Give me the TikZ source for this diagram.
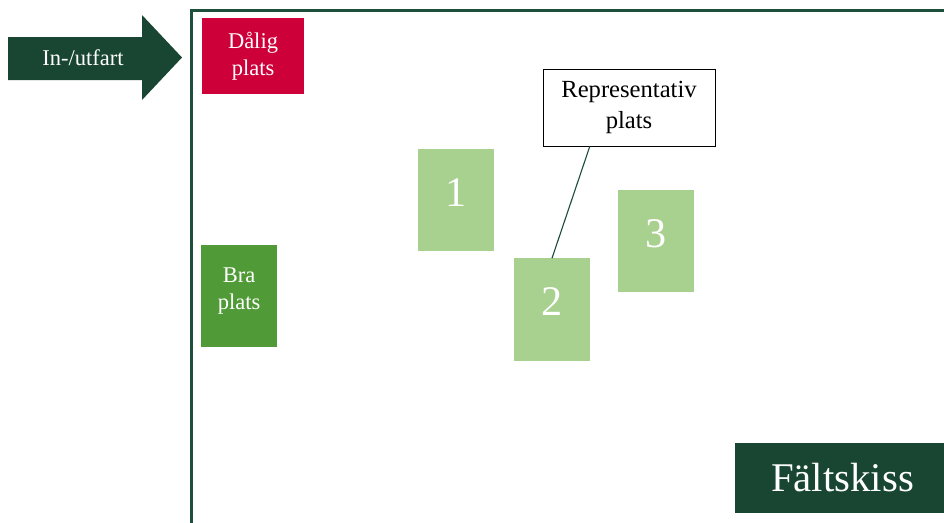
\documentclass[tikz,border=0pt]{standalone}
\usepackage{fontspec}
\setmainfont{Liberation Serif}
\usetikzlibrary{calc,positioning}
\definecolor{darkgreen}{RGB}{24,70,50}
\definecolor{framegreen}{RGB}{30,78,60}
\definecolor{badred}{RGB}{206,0,58}
\definecolor{goodgreen}{RGB}{80,155,55}
\definecolor{lightgreen}{RGB}{168,208,142}

\begin{document}
\begin{tikzpicture}[x=0.025cm,y=-0.025cm,
  place/.style={rectangle,inner sep=0pt,align=center,text=white},
  spot/.style={place,fill=lightgreen,minimum width=1.9cm,minimum height=2.55cm,text depth=11pt,font=\fontsize{30}{34}\selectfont},
  label/.style={font=\fontsize{16}{19}\selectfont}]

  \clip (0,0) rectangle (944,522);
  \fill[white] (0,0) rectangle (944,522);

  % sketch frame
  \draw[framegreen,line width=2.2pt] (191.5,540) |- (960,10.5);

  % entrance arrow
  \fill[darkgreen] (8,37) -- (142,37) -- (142,15) -- (182,57.5) -- (142,100) -- (142,80) -- (8,80) -- cycle;
  \node[label,text=white] (inout) at (83,58) {In-/utfart};

  \node[place,label,fill=badred,minimum width=2.55cm,minimum height=1.9cm] (bad) at (253,56) {Dålig\\plats};
  \node[place,label,fill=goodgreen,minimum width=1.9cm,minimum height=2.55cm,text depth=10pt] (good) at (239,296) {Bra\\plats};

  \node[spot] (one) at (456,200) {1};
  \node[spot] (two) at (552,309.5) {2};
  \node[spot] (three) at (656,241) {3};

  \node[draw=black,fill=white,line width=0.6pt,inner sep=0pt,align=center,minimum width=4.3cm,minimum height=1.925cm,font=\fontsize{17.5}{22}\selectfont] (rep) at (629,107.5) {Representativ\\plats};
  \draw[framegreen,line width=0.8pt] ($(rep.south west)!0.273!(rep.south east)$) -- (two.north);

  \node[place,fill=darkgreen,minimum width=5.375cm,minimum height=1.75cm,font=\fontsize{29}{34}\selectfont] (skiss) at (842.5,478) {Fältskiss};

\end{tikzpicture}
\end{document}
